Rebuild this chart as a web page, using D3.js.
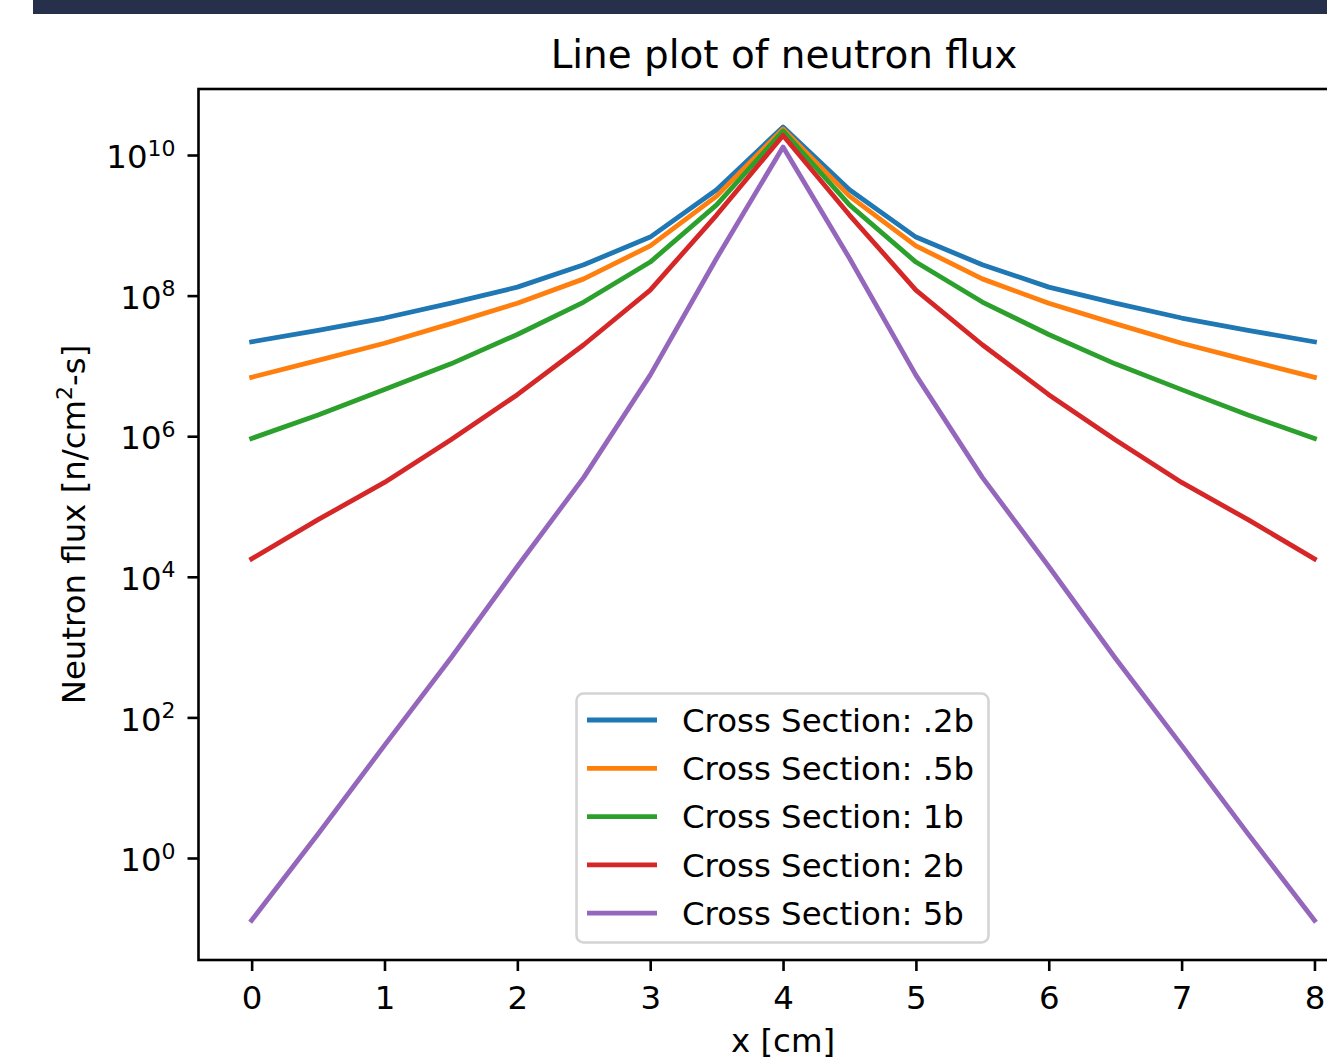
<!DOCTYPE html>
<html>
<head>
<meta charset="utf-8">
<script src="https://cdn.jsdelivr.net/npm/d3@7"></script>
<style>
  body { margin: 0; overflow: hidden; background: #fff; }
  text { font-family: "DejaVu Sans", sans-serif; fill: #000; }
</style>
</head>
<body>
<div id="graphs"></div>
<script>
// x positions [cm]
const xs = [0, 0.5, 1, 1.5, 2, 2.5, 3, 3.5, 4, 4.5, 5, 5.5, 6, 6.5, 7, 7.5, 8];

// flux values, n/cm^2-s
const flux02 = [2.2e7, 3.2e7, 4.8e7, 7.8e7, 1.32e8, 2.75e8, 6.8e8, 3.2e9, 2.5e10, 3.2e9, 6.8e8, 2.75e8, 1.32e8, 7.8e7, 4.8e7, 3.2e7, 2.2e7];
const flux05 = [6.9e6, 1.2e7, 2.1e7, 4.0e7, 7.8e7, 1.73e8, 5.1e8, 2.6e9, 2.35e10, 2.6e9, 5.1e8, 1.73e8, 7.8e7, 4.0e7, 2.1e7, 1.2e7, 6.9e6];
const flux1 = [9.3e5, 2.0e6, 4.6e6, 1.07e7, 2.8e7, 8.1e7, 3.0e8, 1.95e9, 2.2e10, 1.95e9, 3.0e8, 8.1e7, 2.8e7, 1.07e7, 4.6e6, 2.0e6, 9.3e5];
const flux2 = [1.8e4, 6.5e4, 2.2e5, 8.9e5, 3.9e6, 2.0e7, 1.2e8, 1.4e9, 1.9e10, 1.4e9, 1.2e8, 2.0e7, 3.9e6, 8.9e5, 2.2e5, 6.5e4, 1.8e4];
const flux5 = [0.13, 2.2, 40, 700, 1.4e4, 2.6e5, 7.4e6, 3.4e8, 1.3e10, 3.4e8, 7.4e6, 2.6e5, 1.4e4, 700, 40, 2.2, 0.13];

const seriesNames = ['Cross Section: .2b', 'Cross Section: .5b', 'Cross Section: 1b', 'Cross Section: 2b', 'Cross Section: 5b'];
const seriesValues = [flux02, flux05, flux1, flux2, flux5];
const colors = ['#1f77b4', '#ff7f0e', '#2ca02c', '#d62728', '#9467bd'];

const xTicks = [0, 1, 2, 3, 4, 5, 6, 7, 8];
const yExponents = [0, 2, 4, 6, 8, 10];

const width = 1400;
const height = 1059;
const plot = {left: 198.5, top: 89, right: 1367.6, bottom: 960};
const fontSize = 32.4;

const svg = d3.select('#graphs')
  .append('svg')
  .attr('width', width)
  .attr('height', height);

// dark header strip
svg.append('rect')
  .attr('x', 33).attr('y', 0)
  .attr('width', width).attr('height', 14)
  .attr('fill', '#26304a');

const x = d3.scaleLinear()
  .domain([-0.4, 8.4])
  .range([plot.left, plot.right]);

const y = d3.scaleLog()
  .domain([Math.pow(10, -1.451), Math.pow(10, 10.939)])
  .range([plot.bottom, plot.top]);

const line = d3.line()
  .x((d, i) => x(xs[i]))
  .y(d => y(d));

svg.append('g')
  .selectAll('path')
  .data(seriesValues)
  .join('path')
  .attr('d', d => line(d))
  .attr('fill', 'none')
  .attr('stroke', (d, i) => colors[i])
  .attr('stroke-width', 4.8)
  .attr('stroke-linejoin', 'round')
  .attr('stroke-linecap', 'square');

// frame
svg.append('rect')
  .attr('x', plot.left).attr('y', plot.top)
  .attr('width', plot.right - plot.left)
  .attr('height', plot.bottom - plot.top)
  .attr('fill', 'none')
  .attr('stroke', '#000')
  .attr('stroke-width', 2.6);

function xAxis(g){
  g.attr('transform', `translate(0, ${plot.bottom})`)
    .call(d3.axisBottom(x).tickValues(xTicks).tickSize(11).tickPadding(15).tickFormat(d3.format('d')))
    .call(g => g.select('.domain').remove())
    .call(g => g.selectAll('.tick line').attr('stroke-width', 2.6))
    .call(g => g.selectAll('.tick text').attr('font-size', fontSize + 'px').attr('dy', '0.71em'));
}

function yAxis(g){
  g.attr('transform', `translate(${plot.left}, 0)`)
    .call(d3.axisLeft(y).tickValues(yExponents.map(e => Math.pow(10, e))).tickSize(11).tickPadding(12).tickFormat(''))
    .call(g => g.select('.domain').remove())
    .call(g => g.selectAll('.tick line').attr('stroke-width', 2.6));

  g.selectAll('.tick text').each(function(d, i){
    const t = d3.select(this)
      .attr('font-size', fontSize + 'px')
      .attr('dy', '0.39em')
      .attr('x', -23);
    t.append('tspan').text('10');
    t.append('tspan')
      .attr('font-size', '22px')
      .attr('dy', '-0.57em')
      .text(yExponents[i]);
  });
}

svg.append('g').call(xAxis);
svg.append('g').call(yAxis);

// title and axis labels
svg.append('text')
  .attr('x', 784)
  .attr('y', 67.5)
  .attr('text-anchor', 'middle')
  .attr('font-size', '38.9px')
  .text('Line plot of neutron flux');

svg.append('text')
  .attr('x', (plot.left + plot.right) / 2)
  .attr('y', 1052)
  .attr('text-anchor', 'middle')
  .attr('font-size', fontSize + 'px')
  .text('x [cm]');

const yLabel = svg.append('text')
  .attr('transform', `translate(85, ${(plot.top + plot.bottom) / 2}) rotate(-90)`)
  .attr('text-anchor', 'middle')
  .attr('font-size', fontSize + 'px');
yLabel.append('tspan').text('Neutron flux [n/cm');
yLabel.append('tspan').attr('font-size', '22px').attr('dy', '-0.57em').text('2');
yLabel.append('tspan').attr('dy', '0.39em').text('-s]');

// legend
const legend = svg.append('g');
legend.append('rect')
  .attr('x', 576.5).attr('y', 693.5)
  .attr('width', 412).attr('height', 249)
  .attr('rx', 7)
  .attr('fill', '#fff')
  .attr('fill-opacity', 0.8)
  .attr('stroke', '#d4d4d4')
  .attr('stroke-width', 2.6);

const rows = legend.selectAll('g.row')
  .data(seriesNames)
  .join('g')
  .attr('class', 'row')
  .attr('transform', (d, i) => `translate(0, ${720 + i * 48.3})`);

rows.append('line')
  .attr('x1', 587).attr('x2', 657)
  .attr('stroke', (d, i) => colors[i])
  .attr('stroke-width', 4.8);

rows.append('text')
  .attr('x', 682)
  .attr('y', 11.8)
  .attr('font-size', fontSize + 'px')
  .text(d => d);
</script>
</body>
</html>
